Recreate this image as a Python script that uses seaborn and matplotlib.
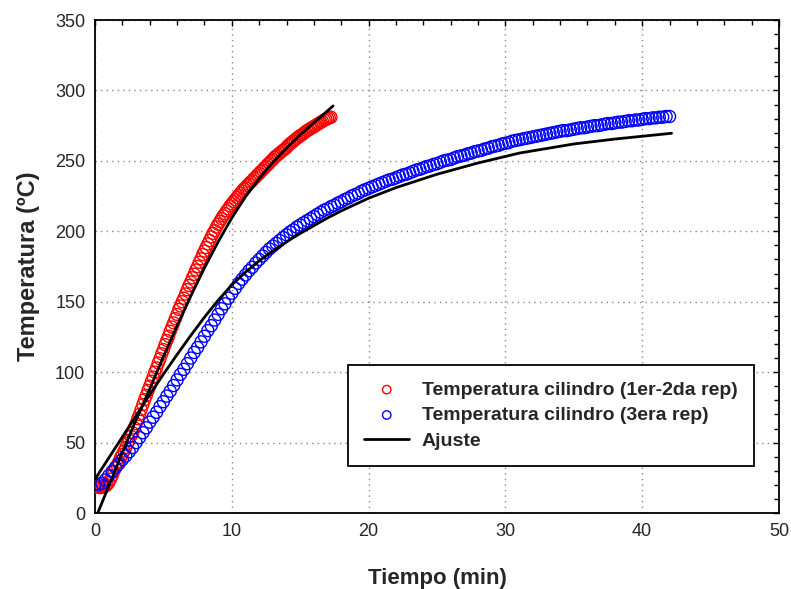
import numpy as np
import pandas as pd
import matplotlib
matplotlib.use("Agg")
import matplotlib.pyplot as plt
from matplotlib.ticker import MultipleLocator
import seaborn as sns

# Datos (muestreo cada 15 s)
paso_min = 0.25
desfase_rep2 = 0.125  # la 2da repeticion arranca medio paso despues

temp_rep1 = [
    19.0, 18.5, 18.5, 19.0,
    21.5, 26.5, 32.0, 36.5,
    41.5, 46.5, 51.5, 57.0,
    63.5, 70.0, 77.0, 83.5,
    90.0, 96.5, 103.0, 109.5,
    116.0, 122.5, 129.0, 135.0,
    141.0, 147.0, 152.5, 158.5,
    164.0, 169.5, 175.0, 180.5,
    186.0, 191.0, 196.0, 200.5,
    205.0, 209.0, 212.5, 216.0,
    219.5, 222.5, 225.5, 228.5,
    231.0, 233.5, 236.0, 238.5,
    241.0, 243.5, 246.0, 248.5,
    251.0, 253.5, 255.5, 257.5,
    259.5, 262.0, 264.0, 266.0,
    268.0, 269.5, 271.5, 273.0,
    274.5, 276.0, 277.5, 279.0,
    280.0, 281.0,
]

temp_rep2 = [
    18.5, 18.0, 18.5, 20.0,
    24.0, 29.5, 34.0, 39.5,
    44.0, 49.5, 54.5, 60.5,
    67.0, 73.5, 80.5, 87.0,
    93.5, 100.0, 106.5, 113.0,
    119.5, 125.5, 132.0, 138.0,
    144.5, 150.0, 155.5, 161.5,
    167.0, 172.5, 178.0, 183.5,
    188.5, 193.5, 198.5, 203.0,
    207.0, 211.0, 214.5, 218.0,
    221.0, 224.0, 227.0, 230.0,
    232.5, 235.0, 237.5, 240.0,
    242.5, 245.0, 247.5, 250.0,
    252.5, 254.5, 256.5, 258.5,
    261.0, 263.0, 265.0, 267.0,
    268.5, 270.5, 272.0, 273.5,
    275.0, 276.5, 278.0, 279.5,
    280.5,
]

temp_rep3 = [
    20.5, 20.4, 21.0, 23.5,
    26.5, 29.5, 32.5, 35.0,
    38.0, 40.5, 43.5, 46.5,
    50.0, 53.5, 57.0, 60.5,
    64.5, 68.0, 71.5, 75.5,
    79.0, 83.0, 86.5, 90.5,
    94.5, 98.5, 102.0, 106.0,
    110.0, 114.0, 117.5, 121.5,
    125.5, 129.5, 133.0, 137.0,
    141.0, 145.0, 148.5, 152.5,
    156.0, 159.5, 163.0, 166.0,
    169.0, 172.0, 174.5, 177.5,
    180.0, 182.5, 185.0, 187.5,
    189.5, 191.5, 193.5, 195.5,
    197.5, 199.5, 201.0, 203.0,
    204.5, 206.0, 207.5, 209.0,
    210.5, 212.0, 213.5, 215.0,
    216.0, 217.5, 218.5, 220.0,
    221.0, 222.5, 223.5, 225.0,
    226.0, 227.0, 228.5, 229.5,
    230.5, 231.5, 232.5, 233.5,
    234.5, 235.5, 236.5, 237.0,
    238.0, 239.0, 240.0, 240.5,
    241.5, 242.5, 243.5, 244.0,
    245.0, 246.0, 246.5, 247.5,
    248.0, 249.0, 250.0, 250.5,
    251.0, 252.0, 253.0, 253.5,
    254.0, 255.0, 255.5, 256.5,
    257.0, 257.5, 258.5, 259.0,
    260.0, 260.5, 261.0, 262.0,
    262.5, 263.0, 264.0, 264.5,
    265.0, 265.5, 266.0, 266.5,
    267.0, 267.5, 268.0, 268.5,
    269.0, 269.5, 270.0, 270.5,
    271.0, 271.5, 271.5, 272.0,
    272.5, 273.0, 273.5, 273.5,
    274.0, 274.5, 275.0, 275.0,
    275.5, 276.0, 276.5, 276.5,
    277.0, 277.5, 277.5, 278.0,
    278.5, 278.5, 279.0, 279.0,
    279.5, 280.0, 280.0, 280.5,
    280.5, 281.0, 281.0, 281.5,
    281.5,
]

# Curvas de ajuste
ajuste12_t = [0.2, 1, 2, 3, 4, 5, 6, 7, 8, 9, 10, 11, 12, 13, 14, 15, 16, 17.4]
ajuste12_T = [0, 19, 43, 66, 88, 111, 133, 154, 174, 192.5, 209.5, 224.5, 237.5, 249, 259, 268.5, 277, 289]

ajuste3_t = [0, 1, 2, 3, 4, 5, 6, 7, 8, 9, 10, 11, 12, 13, 14, 15, 16, 17, 18, 19, 20,
             22, 25, 28, 31, 35, 38, 42.15]
ajuste3_T = [24, 39, 54, 69, 84, 98.5, 112.5, 126, 139, 151, 162, 171, 179, 186, 192.5,
             198.5, 204, 209.5, 214.5, 219, 223.5, 231, 240.5, 248.5, 255.5, 262, 265.5, 269.6]

etiqueta_12 = "Temperatura cilindro (1er-2da rep)"
etiqueta_3 = "Temperatura cilindro (3era rep)"

df12 = pd.DataFrame({
    "t": np.concatenate([np.arange(len(temp_rep1)) * paso_min,
                         np.arange(len(temp_rep2)) * paso_min + desfase_rep2]),
    "T": temp_rep1 + temp_rep2,
})
df3 = pd.DataFrame({"t": np.arange(len(temp_rep3)) * paso_min, "T": temp_rep3})

sns.set_theme(style="white")
plt.rcParams["font.family"] = ["Liberation Sans", "DejaVu Sans"]

fig = plt.figure(figsize=(7.91, 5.89), dpi=100)
ax = fig.add_axes([0.1201, 0.129, 0.8647, 0.837])

sns.scatterplot(data=df12, x="t", y="T", ax=ax, marker="o", s=75, facecolors="none",
                edgecolor="#ff0000", linewidth=1.0, label=etiqueta_12, zorder=3)
sns.scatterplot(data=df3, x="t", y="T", ax=ax, marker="o", s=75, facecolors="none",
                edgecolor="#0000ff", linewidth=1.0, label=etiqueta_3, zorder=3)
sns.lineplot(x=ajuste12_t, y=ajuste12_T, ax=ax, color="black", linewidth=2.0,
             sort=False, estimator=None, label="Ajuste", zorder=4)
sns.lineplot(x=ajuste3_t, y=ajuste3_T, ax=ax, color="black", linewidth=2.0,
             sort=False, estimator=None, zorder=4)

ax.set_xlim(0, 50)
ax.set_ylim(0, 350)
ax.xaxis.set_major_locator(MultipleLocator(10))
ax.xaxis.set_minor_locator(MultipleLocator(2))
ax.yaxis.set_major_locator(MultipleLocator(50))
ax.yaxis.set_minor_locator(MultipleLocator(10))
ax.tick_params(which="both", direction="in", top=True, right=True, color="black")
ax.tick_params(which="major", length=4, width=1, labelsize=13, pad=7)
ax.tick_params(which="minor", length=3.5, width=1)
ax.grid(True, which="major", color="#888888", linestyle=(0, (1, 3)), linewidth=1)
for sp in ax.spines.values():
    sp.set_color("black")
    sp.set_linewidth(1.3)

ax.set_xlabel("Tiempo (min)", fontsize=16, fontweight="bold", labelpad=20)
ax.set_ylabel("Temperatura (ºC)", fontsize=17, fontweight="bold", labelpad=11)

handles, labels = ax.get_legend_handles_labels()
orden = [labels.index(etiqueta_12), labels.index(etiqueta_3), labels.index("Ajuste")]
leg = ax.legend([handles[i] for i in orden], [labels[i] for i in orden],
                loc="lower right", bbox_to_anchor=(0.9635, 0.0953), borderaxespad=0,
                fancybox=False, frameon=True, edgecolor="black", framealpha=1,
                prop={"weight": "bold", "size": 14}, markerscale=0.7,
                handlelength=2.3, handletextpad=0.65, labelspacing=0.4,
                borderpad=0.85)
leg.get_frame().set_linewidth(1.3)

fig.savefig("out.png", dpi=100)
